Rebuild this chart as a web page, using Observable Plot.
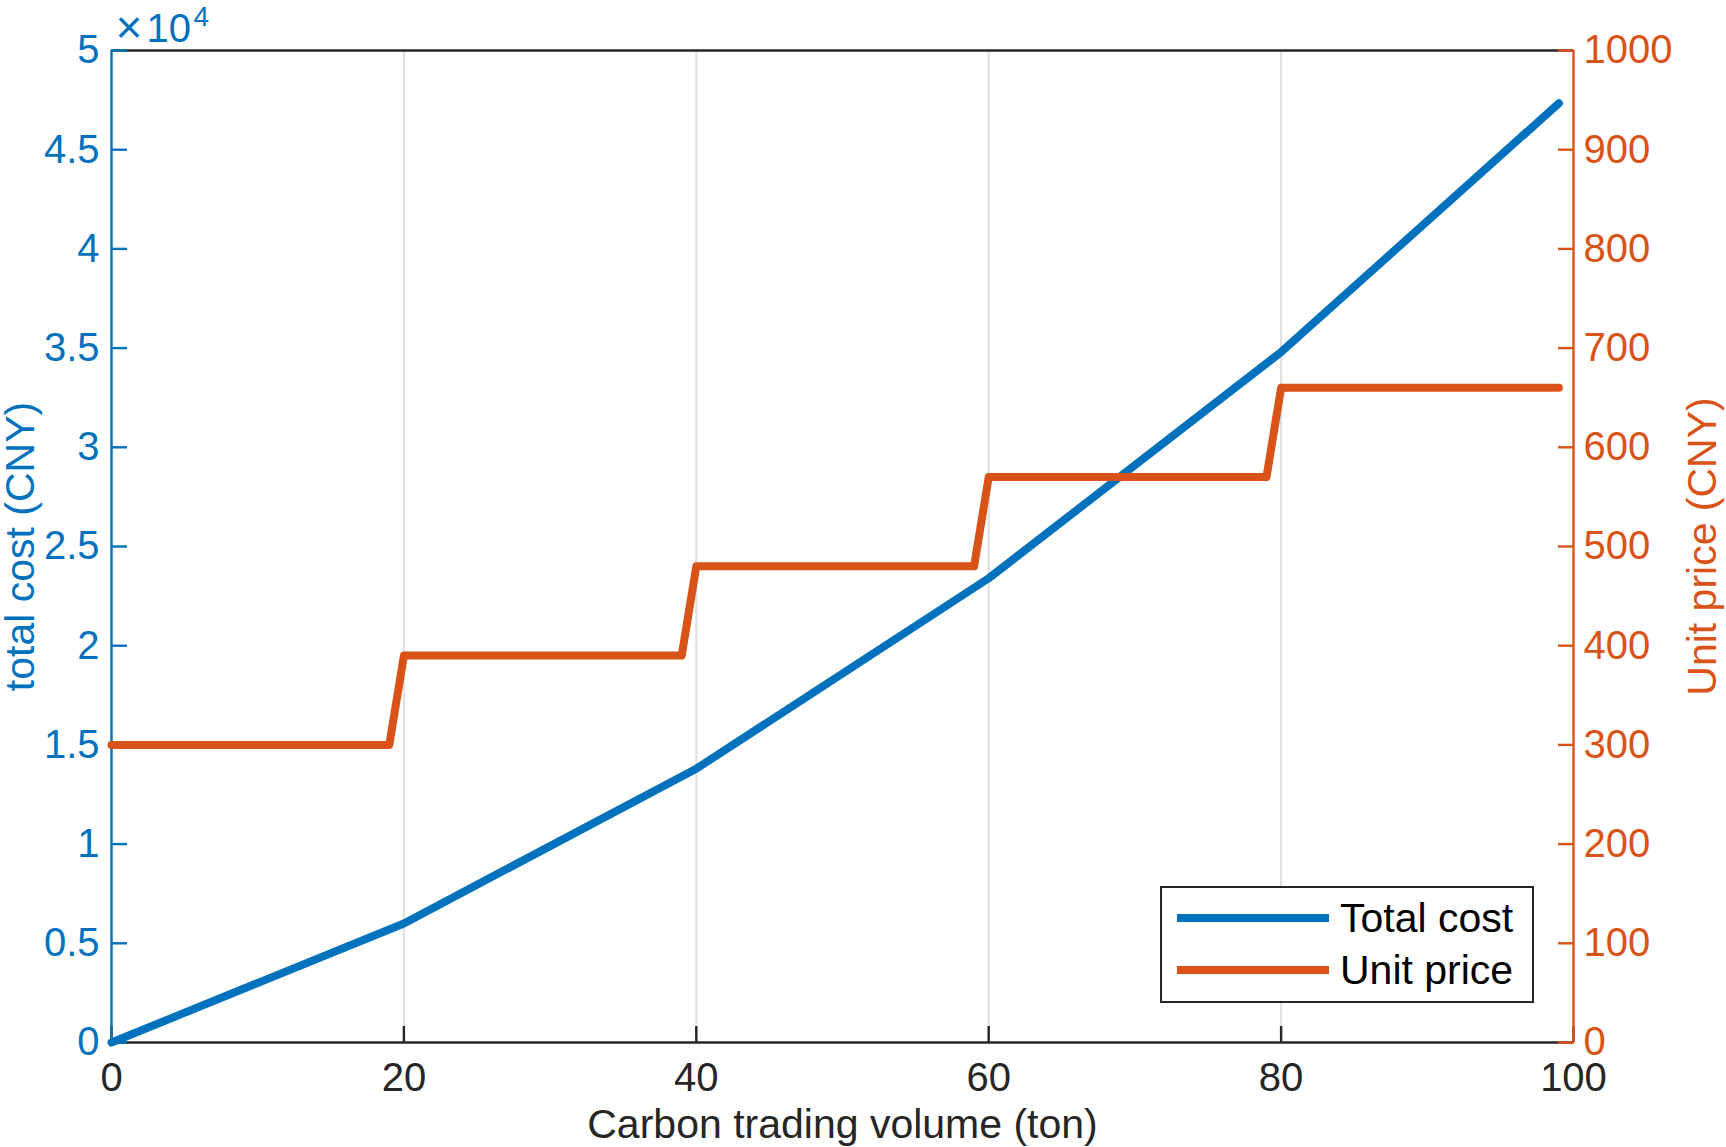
<!DOCTYPE html>
<html><head><meta charset="utf-8">
<script src="https://cdn.jsdelivr.net/npm/d3@7"></script>
<script src="https://cdn.jsdelivr.net/npm/@observablehq/plot@0.6"></script>
<style>
body{margin:0;background:#fff;}
#wrap{position:relative;width:1726px;height:1147px;overflow:hidden;font-family:"Liberation Sans",Arial,Helvetica,sans-serif;}
#wrap svg{position:absolute;left:0;top:0;}
#legend{position:absolute;left:1160px;top:886px;width:374px;height:117px;box-sizing:border-box;border:2px solid #262626;background:#fff;}
.sw{position:absolute;left:15px;width:152px;height:8px;}
.lt{position:absolute;left:178px;font-size:41px;line-height:41px;color:#000;white-space:nowrap;}
</style></head><body><div id="wrap"></div>
<script>
// ---- data ----
const volumeCost = [0, 20, 40, 60, 80, 99];
const totalCost = [0, 6000, 13800, 23400, 34800, 47340];
const volumePrice = [0, 19, 20, 39, 40, 59, 60, 79, 80, 99];
const unitPrice = [300, 300, 390, 390, 480, 480, 570, 570, 660, 660];
const xTicks = [0, 20, 40, 60, 80, 100];
const gridTicks = [20, 40, 60, 80];
const costTicks = [0, 5000, 10000, 15000, 20000, 25000, 30000, 35000, 40000, 45000, 50000];
const costTickLabels = ["0", "0.5", "1", "1.5", "2", "2.5", "3", "3.5", "4", "4.5", "5"];
const priceTicks = [0, 100, 200, 300, 400, 500, 600, 700, 800, 900, 1000];
const seriesNames = ["Total cost", "Unit price"];

const BLUE = "#0072BD", ORANGE = "#D95319", INK = "#262626";
const FONT = '"Liberation Sans", Arial, Helvetica, sans-serif';
const TICK_FS = 40;
const costData = volumeCost.map((v, i) => ({v, c: totalCost[i]}));
const priceData = volumePrice.map((v, i) => ({v, p: unitPrice[i]}));
const costLabel = new Map(costTicks.map((t, i) => [t, costTickLabels[i]]));

const common = {
  width: 1726, height: 1147,
  marginTop: 50, marginRight: 153, marginBottom: 105, marginLeft: 111,
  style: {fontFamily: FONT, background: "transparent", overflow: "visible"}
};
const AW = 2.4;

const plotA = Plot.plot({
  ...common,
  x: {domain: [0, 100], axis: null},
  y: {domain: [0, 50000], axis: null},
  marks: [
    Plot.gridX(gridTicks, {stroke: "#dedede", strokeOpacity: 1, strokeWidth: 2}),
    Plot.ruleY([0, 50000], {stroke: INK, strokeWidth: AW}),
    Plot.axisX(xTicks, {tickSize: 16, dy: -16, fill: null, stroke: INK, strokeWidth: AW, label: null}),
    Plot.axisX(xTicks, {tickSize: 0, tickPadding: 20, fill: INK, fontSize: TICK_FS, label: null, tickFormat: d => String(d)}),
    Plot.ruleX([0], {stroke: BLUE, strokeWidth: AW}),
    Plot.axisY(costTicks, {anchor: "left", tickSize: 16, dx: 16, fill: null, stroke: BLUE, strokeWidth: AW, label: null}),
    Plot.axisY(costTicks, {anchor: "left", tickSize: 0, tickPadding: 12, fill: BLUE, fontSize: TICK_FS, label: null, tickFormat: d => costLabel.get(d)}),
    Plot.line(costData, {x: "v", y: "c", stroke: BLUE, strokeWidth: 8, strokeLinejoin: "round"}),
    Plot.text(["×"], {frameAnchor: "top-left", dx: 4, dy: -8, textAnchor: "start", lineAnchor: "bottom", fontSize: 46, fill: BLUE}),
    Plot.text(["10"], {frameAnchor: "top-left", dx: 35, dy: -9, textAnchor: "start", lineAnchor: "bottom", fontSize: 40, fill: BLUE}),
    Plot.text(["4"], {frameAnchor: "top-left", dx: 82, dy: -25, textAnchor: "start", lineAnchor: "bottom", fontSize: 28, fill: BLUE}),
    Plot.text(["total cost (CNY)"], {frameAnchor: "left", dx: -78, rotate: -90, textAnchor: "middle", lineAnchor: "bottom", fontSize: 41, fill: BLUE}),
    Plot.text(["Carbon trading volume (ton)"], {frameAnchor: "bottom", dy: 95, textAnchor: "middle", lineAnchor: "bottom", fontSize: 41, fill: INK})
  ]
});

const plotB = Plot.plot({
  ...common,
  x: {domain: [0, 100], axis: null},
  y: {domain: [0, 1000], axis: null},
  marks: [
    Plot.ruleX([100], {stroke: ORANGE, strokeWidth: AW}),
    Plot.axisY(priceTicks, {anchor: "right", tickSize: 16, dx: -16, fill: null, stroke: ORANGE, strokeWidth: AW, label: null}),
    Plot.axisY(priceTicks, {anchor: "right", tickSize: 0, tickPadding: 10, fill: ORANGE, fontSize: TICK_FS, label: null, tickFormat: d => String(d)}),
    Plot.line(priceData, {x: "v", y: "p", stroke: ORANGE, strokeWidth: 8, strokeLinejoin: "round"}),
    Plot.text(["Unit price (CNY)"], {frameAnchor: "right", dx: 142, rotate: -90, textAnchor: "middle", lineAnchor: "bottom", fontSize: 41, fill: ORANGE})
  ]
});

const wrap = document.getElementById("wrap");
wrap.appendChild(plotA);
wrap.appendChild(plotB);

// legend
const legend = document.createElement("div");
legend.id = "legend";
const colors = [BLUE, ORANGE];
const rowY = [30, 82];
seriesNames.forEach((name, i) => {
  const sw = document.createElement("div");
  sw.className = "sw";
  sw.style.top = (rowY[i] - 4) + "px";
  sw.style.background = colors[i];
  legend.appendChild(sw);
  const t = document.createElement("div");
  t.className = "lt";
  t.style.top = (rowY[i] - 20) + "px";
  t.textContent = name;
  legend.appendChild(t);
});
wrap.appendChild(legend);
</script>
</body></html>
